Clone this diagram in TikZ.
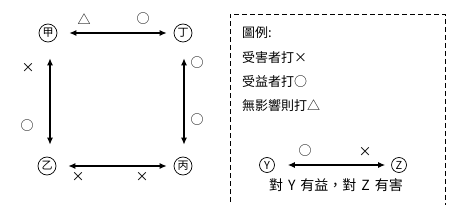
\documentclass[tikz,border=0pt]{standalone}
\usepackage{fontspec}
\setmainfont{Noto Sans CJK TC}
\usetikzlibrary{arrows.meta}
\begin{document}
\begin{tikzpicture}[x=1pt,y=-1pt,
  party/.style={circle,draw,line width=0.7pt,inner sep=0pt,minimum size=18pt,font=\fontsize{11}{11}\selectfont},
  sym/.style={font=\fontsize{13}{13}\selectfont,inner sep=0pt},
  rel/.style={line width=1.1pt,{Latex[length=7pt,width=6pt]}-{Latex[length=7pt,width=6pt]}},
  legend/.style={font=\fontsize{13}{15}\selectfont,anchor=west,inner sep=0pt}]
\useasboundingbox (0,0) rectangle (454,205);
\node[party] (jia) at (48,33) {甲};
\node[party] (ding) at (183,33) {丁};
\node[party] (yi) at (47,166) {乙};
\node[party] (bing) at (183,166) {丙};
\draw[rel] ([xshift=12pt]jia.east) -- ([xshift=-7pt]ding.west);
\draw[rel] ([xshift=12pt]yi.east) -- ([xshift=-7pt]bing.west);
\draw[rel] ([xshift=2pt,yshift=-16pt]jia.south) -- ([xshift=3pt,yshift=12pt]yi.north);
\draw[rel] ([xshift=1pt,yshift=-16pt]ding.south) -- ([xshift=1pt,yshift=12pt]bing.north);
\node[sym] (m1) at (84,19) {△};
\node[sym] (m2) at (143,19) {○};
\node[sym] (m3) at (28,68) {×};
\node[sym] (m4) at (27,126) {○};
\node[sym] (m5) at (197,63) {○};
\node[sym] (m6) at (197,120) {○};
\node[sym] (m7) at (78,177) {×};
\node[sym] (m8) at (142,177) {×};
\draw[dash pattern=on 5pt off 3pt,line width=0.8pt] (230,210) -- (230,14) -- (445,14) -- (445,210);
\node[legend] (l1) at (242,33) {圖例:};
\node[legend] (l2) at (242,58) {受害者打×};
\node[legend] (l3) at (242,82) {受益者打○};
\node[legend] (l4) at (242,106) {無影響則打△};
\node[party,minimum size=15pt] (Y) at (267,165) {Y};
\node[party,minimum size=15pt] (Z) at (399,165) {Z};
\draw[rel] ([xshift=13pt]Y.east) -- ([xshift=-6pt]Z.west);
\node[sym] (m9) at (305,151) {○};
\node[sym] (m10) at (365,152) {×};
\node[font=\fontsize{14}{14}\selectfont,inner sep=0pt] (cap) at (336,185) {對\hspace{5pt}Y\hspace{5pt}有益，對\hspace{5pt}Z\hspace{5pt}有害};
\end{tikzpicture}
\end{document}
